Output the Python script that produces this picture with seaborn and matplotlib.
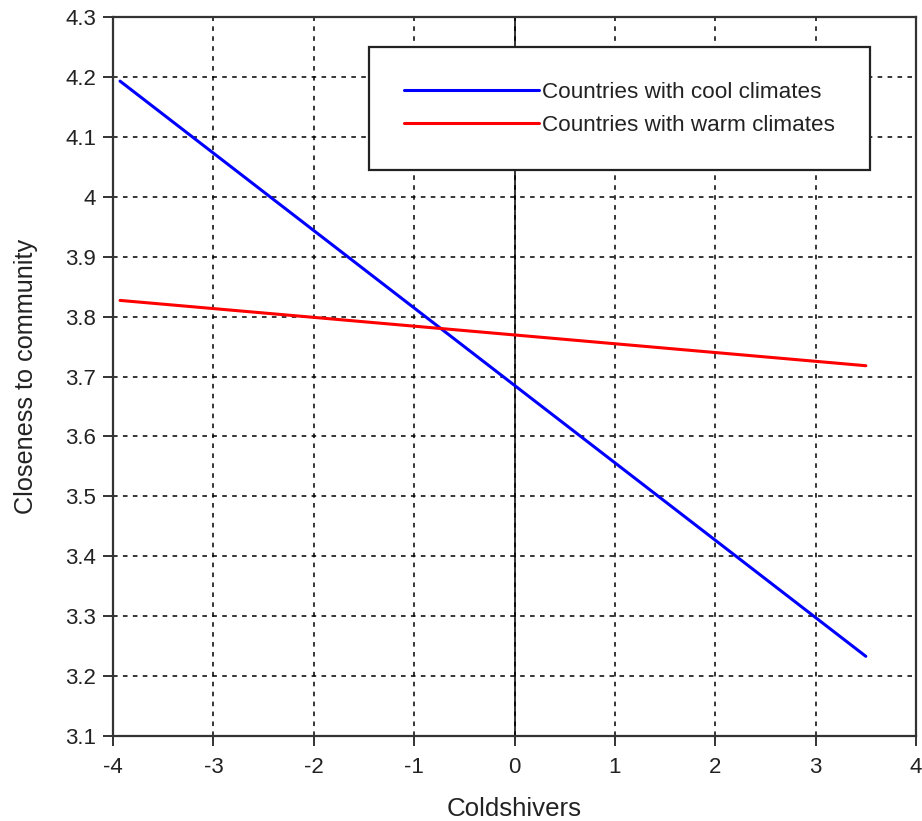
import matplotlib
matplotlib.use("Agg")
import matplotlib.pyplot as plt
import seaborn as sns
import pandas as pd

coldshivers = [-3.93, 3.5]
cool_values = [4.193, 3.233]
warm_values = [3.827, 3.718]
series_names = ["Countries with cool climates", "Countries with warm climates"]
x_ticks = [-4, -3, -2, -1, 0, 1, 2, 3, 4]
y_ticks = [3.1, 3.2, 3.3, 3.4, 3.5, 3.6, 3.7, 3.8, 3.9, 4.0, 4.1, 4.2, 4.3]
y_tick_labels = ["3.1", "3.2", "3.3", "3.4", "3.5", "3.6", "3.7", "3.8", "3.9", "4", "4.1", "4.2", "4.3"]

df = pd.DataFrame({
    "Coldshivers": coldshivers * 2,
    "Closeness": cool_values + warm_values,
    "Group": [series_names[0]] * 2 + [series_names[1]] * 2,
})

sns.set_style("white")
plt.rcParams['font.family'] = ['Liberation Sans', 'DejaVu Sans']

fig = plt.figure(figsize=(9.22, 8.21), dpi=100)
ax = fig.add_axes([113/922, 1 - 736/821, (916-113)/922, (736-17)/821])

sns.lineplot(data=df, x="Coldshivers", y="Closeness", hue="Group",
             palette={series_names[0]: "#0000ff", series_names[1]: "#ff0000"},
             linewidth=2.2, ax=ax, legend=True, zorder=3)

ax.set_xlim(-4, 4)
ax.set_ylim(3.1, 4.3)
ax.set_xticks(x_ticks)
ax.set_xticklabels([str(t) for t in x_ticks])
ax.set_yticks(y_ticks)
ax.set_yticklabels(y_tick_labels)
ax.grid(True, color="black", linestyle=(0, (3, 3.5)), linewidth=1.1, zorder=1)
ax.axvline(0, color="black", linewidth=1.1, zorder=2)
for s in ax.spines.values():
    s.set_color("#333333")
    s.set_linewidth(1.6)
ax.tick_params(axis="both", bottom=True, left=True, direction="out", length=7, width=1.4,
               color="#333333", labelsize=16, labelcolor="#222222")
ax.tick_params(axis="x", pad=8)
ax.tick_params(axis="y", pad=5)
ax.set_xlabel("Coldshivers", fontsize=18.6, color="#222222", labelpad=13.5)
ax.set_ylabel("Closeness to community", fontsize=18.2, color="#222222", labelpad=20)

leg = ax.legend(loc="upper left", bbox_to_anchor=((369-113)/803, (736-47)/719),
                frameon=True, fancybox=False, fontsize=16.2, handlelength=6.0,
                handletextpad=0.13, borderpad=1.55, borderaxespad=0, labelspacing=0.52,
                framealpha=1)
leg.get_frame().set_edgecolor("#222222")
leg.get_frame().set_linewidth(1.6)
leg.set_zorder(5)
for t in leg.get_texts():
    t.set_color("#222222")

fig.savefig("out.png", dpi=100)
